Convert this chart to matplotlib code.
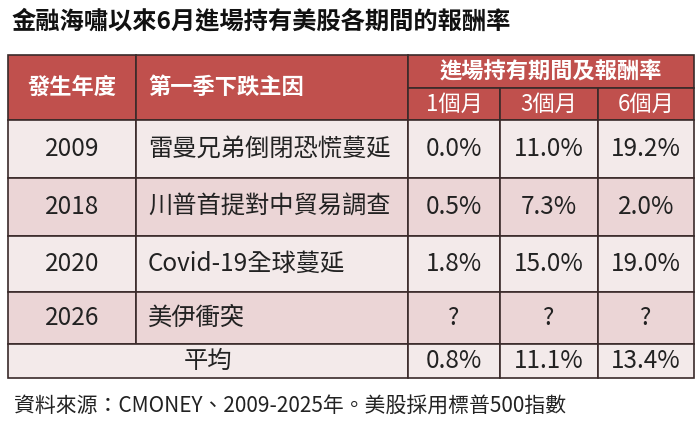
import matplotlib
matplotlib.use("Agg")
import matplotlib.pyplot as plt
from matplotlib.patches import Rectangle

plt.rcParams['font.family'] = ['Noto Sans CJK TC', 'DejaVu Sans']

title = "金融海嘯以來6月進場持有美股各期間的報酬率"
col_headers = ["發生年度", "第一季下跌主因"]
group_header = "進場持有期間及報酬率"
periods = ["1個月", "3個月", "6個月"]
years = ["2009", "2018", "2020", "2026"]
causes = ["雷曼兄弟倒閉恐慌蔓延", "川普首提對中貿易調查", "Covid-19全球蔓延", "美伊衝突"]
ret_1m = ["0.0%", "0.5%", "1.8%", "?"]
ret_3m = ["11.0%", "7.3%", "15.0%", "?"]
ret_6m = ["19.2%", "2.0%", "19.0%", "?"]
avg_label = "平均"
avg_vals = ["0.8%", "11.1%", "13.4%"]
source = "資料來源：CMONEY、2009-2025年。美股採用標普500指數"

W, H = 700, 434
fig = plt.figure(figsize=(7, 4.34), dpi=100)
ax = fig.add_axes([0, 0, 1, 1])
ax.set_xlim(0, W); ax.set_ylim(H, 0); ax.axis('off')

RED = '#c0504d'
LIGHT = '#f3eaea'
PINK = '#ebd5d6'
LINE = '#3a2a2a'
xs = [8, 136, 408, 500, 598, 694]
y0, ymid, yh = 55, 88, 120
rows = [120, 178, 236, 292, 344, 378]
FS = 17.5

ax.text(12, 21, title, fontsize=17.5, fontweight='bold', va='center', ha='left', color='#111')

def rect(x1, y1, x2, y2, c):
    ax.add_patch(Rectangle((x1, y1), x2 - x1, y2 - y1, facecolor=c, edgecolor=LINE, lw=1.2))

rect(xs[0], y0, xs[1], yh, RED)
rect(xs[1], y0, xs[2], yh, RED)
rect(xs[2], y0, xs[5], ymid, RED)
for i in range(3):
    rect(xs[2 + i], ymid, xs[3 + i], yh, RED)
ax.text((xs[0] + xs[1]) / 2, (y0 + yh) / 2, col_headers[0], color='white', fontsize=16, fontweight='bold', ha='center', va='center')
ax.text(xs[1] + 12, (y0 + yh) / 2, col_headers[1], color='white', fontsize=16, fontweight='bold', ha='left', va='center')
ax.text((xs[2] + xs[5]) / 2, (y0 + ymid) / 2, group_header, color='white', fontsize=16, fontweight='bold', ha='center', va='center')
for i, p in enumerate(periods):
    ax.text((xs[2 + i] + xs[3 + i]) / 2, (ymid + yh) / 2, p, color='white', fontsize=16, fontweight='light', ha='center', va='center')

fills = [LIGHT, PINK, LIGHT, PINK]
for r in range(4):
    ya, yb = rows[r], rows[r + 1]
    for c in range(5):
        rect(xs[c], ya, xs[c + 1], yb, fills[r])
    yc = (ya + yb) / 2
    ax.text((xs[0] + xs[1]) / 2, yc, years[r], fontsize=FS, ha='center', va='center', color='#222')
    ax.text(xs[1] + 12, yc, causes[r], fontsize=FS, ha='left', va='center', color='#222')
    for i, v in enumerate([ret_1m[r], ret_3m[r], ret_6m[r]]):
        ax.text((xs[2 + i] + xs[3 + i]) / 2, yc, v, fontsize=FS, ha='center', va='center', color='#222')

ya, yb = rows[4], rows[5]
rect(xs[0], ya, xs[2], yb, LIGHT)
for i in range(3):
    rect(xs[2 + i], ya, xs[3 + i], yb, LIGHT)
yc = (ya + yb) / 2
ax.text((xs[0] + xs[2]) / 2, yc, avg_label, fontsize=FS, ha='center', va='center', color='#222')
for i, v in enumerate(avg_vals):
    ax.text((xs[2 + i] + xs[3 + i]) / 2, yc, v, fontsize=FS, ha='center', va='center', color='#222')

ax.text(14, 406, source, fontsize=15, ha='left', va='center', color='#222')

fig.savefig('out.png', dpi=100, facecolor='white')
